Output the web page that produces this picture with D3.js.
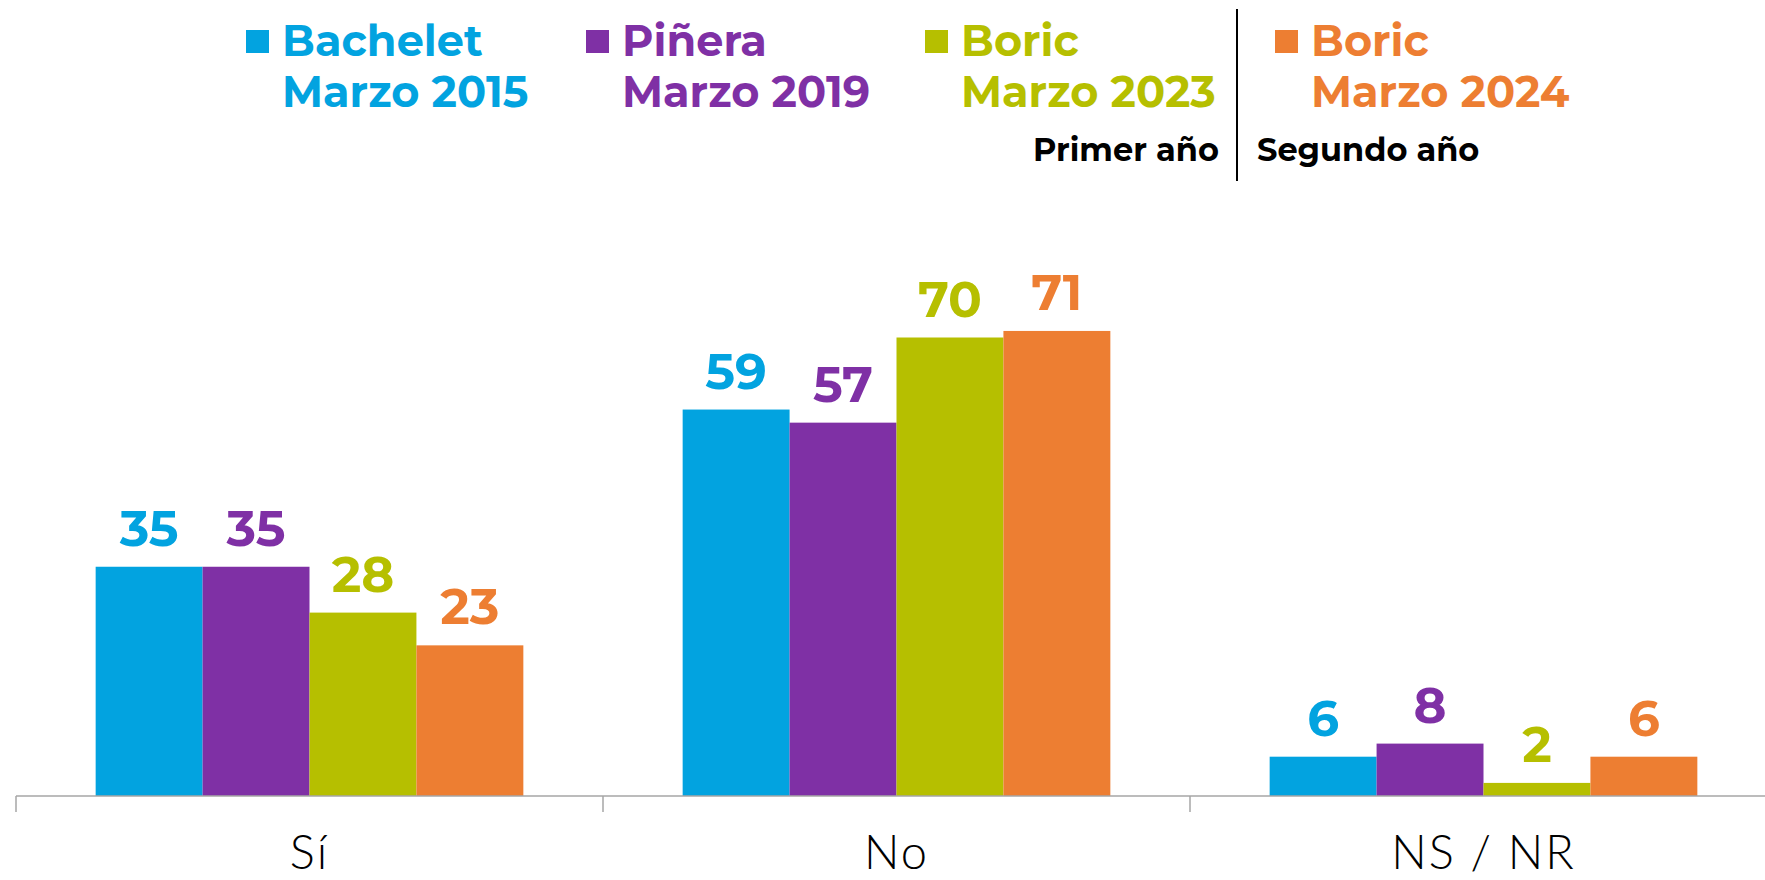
<!DOCTYPE html>
<html>
<head>
<meta charset="utf-8">
<script src="https://cdn.jsdelivr.net/npm/d3@7"></script>
<style>
  body { margin: 0; background: #fff; }
  svg { display: block; }
</style>
</head>
<body>
<div id="chart"></div>
<script>
const categories = ['Sí', 'No', 'NS / NR']
const seriesKeys = ['bachelet2015', 'pinera2019', 'boric2023', 'boric2024']
const seriesName = ['Bachelet', 'Piñera', 'Boric', 'Boric']
const seriesDate = ['Marzo 2015', 'Marzo 2019', 'Marzo 2023', 'Marzo 2024']
const seriesColor = ['#02a3e0', '#7f30a5', '#b6bf00', '#ed7e32']
const bachelet2015 = [35, 59, 6]
const pinera2019 = [35, 57, 8]
const boric2023 = [28, 70, 2]
const boric2024 = [23, 71, 6]
const periodLabels = ['Primer año', 'Segundo año']

const values = { bachelet2015, pinera2019, boric2023, boric2024 }

const width = 1765
const height = 880
const fontFamily = 'Montserrat, Inter, "Open Sans", sans-serif'

const svg = d3.select('#chart')
  .append('svg')
  .attr('width', width)
  .attr('height', height)

// scales
const x0 = d3.scaleBand()
  .domain(categories)
  .range([16, 1777])
  .padding(0)

const x1 = d3.scaleBand()
  .domain(seriesKeys)
  .range([0, x0.bandwidth()])
  .paddingInner(0)
  .paddingOuter(0.745)

const y = d3.scaleLinear()
  .domain([0, 100])
  .range([796, 141])

const color = d3.scaleOrdinal().domain(seriesKeys).range(seriesColor)

// bars
const groups = svg.append('g')
  .selectAll('g')
  .data(categories)
  .join('g')
  .attr('transform', d => `translate(${x0(d)},0)`)

groups.selectAll('rect')
  .data((c, i) => seriesKeys.map(k => ({ key: k, value: values[k][i] })))
  .join('rect')
  .attr('x', d => x1(d.key))
  .attr('y', d => y(d.value))
  .attr('width', x1.bandwidth())
  .attr('height', d => y(0) - y(d.value))
  .attr('fill', d => color(d.key))

groups.selectAll('text')
  .data((c, i) => seriesKeys.map(k => ({ key: k, value: values[k][i] })))
  .join('text')
  .attr('x', d => x1(d.key) + x1.bandwidth() / 2)
  .attr('y', d => y(d.value) - 21)
  .attr('text-anchor', 'middle')
  .attr('font-family', fontFamily)
  .attr('font-weight', 700)
  .attr('font-size', 50)
  .attr('fill', d => color(d.key))
  .text(d => d.value)

// axis: line plus ticks between categories
const axis = svg.append('g').attr('stroke', '#a6a6a6').attr('stroke-width', 1.5)
axis.append('line')
  .attr('x1', x0.range()[0])
  .attr('x2', x0.range()[1])
  .attr('y1', y(0))
  .attr('y2', y(0))
const tickPos = categories.map(c => x0(c)).concat([x0.range()[1]])
axis.selectAll('line.tick')
  .data(tickPos)
  .join('line')
  .attr('class', 'tick')
  .attr('x1', d => d)
  .attr('x2', d => d)
  .attr('y1', y(0))
  .attr('y2', y(0) + 16)

svg.append('g')
  .selectAll('text')
  .data(categories)
  .join('text')
  .attr('x', d => x0(d) + x0.bandwidth() / 2)
  .attr('y', 869)
  .attr('text-anchor', 'middle')
  .attr('font-family', 'Lato, "Open Sans", sans-serif')
  .attr('font-weight', 300)
  .attr('font-size', 47)
  .attr('letter-spacing', 2)
  .attr('fill', '#000')
  .text(d => d)

// legend
const legendX = [246, 586, 925, 1275]
const legend = svg.append('g')
  .selectAll('g')
  .data(seriesKeys)
  .join('g')
  .attr('transform', (d, i) => `translate(${legendX[i]},0)`)

legend.append('rect')
  .attr('x', 0)
  .attr('y', 30)
  .attr('width', 23)
  .attr('height', 23)
  .attr('fill', d => color(d))

legend.append('text')
  .attr('x', 36)
  .attr('y', 56)
  .attr('font-family', fontFamily)
  .attr('font-weight', 700)
  .attr('font-size', 43)
  .attr('fill', d => color(d))
  .text((d, i) => seriesName[i])

legend.append('text')
  .attr('x', 36)
  .attr('y', 107)
  .attr('font-family', fontFamily)
  .attr('font-weight', 700)
  .attr('font-size', 43)
  .attr('fill', d => color(d))
  .text((d, i) => seriesDate[i])

// separator between first and second year
svg.append('line')
  .attr('x1', 1237)
  .attr('x2', 1237)
  .attr('y1', 9)
  .attr('y2', 181)
  .attr('stroke', '#000')
  .attr('stroke-width', 2)

svg.append('text')
  .attr('x', 1219)
  .attr('y', 161)
  .attr('text-anchor', 'end')
  .attr('font-family', fontFamily)
  .attr('font-weight', 700)
  .attr('font-size', 32)
  .attr('fill', '#000')
  .text(periodLabels[0])

svg.append('text')
  .attr('x', 1257)
  .attr('y', 161)
  .attr('font-family', fontFamily)
  .attr('font-weight', 700)
  .attr('font-size', 32)
  .attr('fill', '#000')
  .text(periodLabels[1])
</script>
</body>
</html>
